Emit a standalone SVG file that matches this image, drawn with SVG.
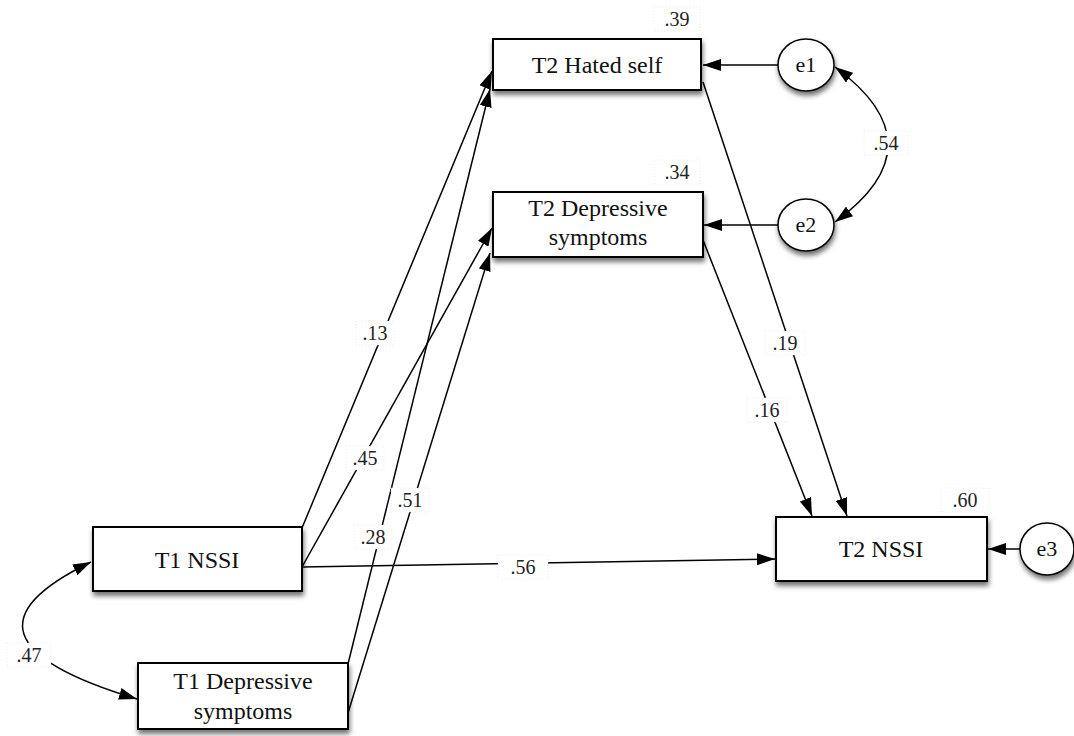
<svg xmlns="http://www.w3.org/2000/svg" width="1074" height="736" viewBox="0 0 1074 736">
<style>
.box{fill:#fff;stroke:#000;stroke-width:2;filter:url(#sh)}
.circ{fill:#fff;stroke:#000;stroke-width:1.5;filter:url(#sh)}
.t{font-family:"Liberation Serif",serif;font-size:24px;fill:#111;text-anchor:middle}
.et{font-family:"Liberation Serif",serif;font-size:22px;fill:#111;text-anchor:middle}
.lb{font-family:"Liberation Serif",serif;font-size:20px;fill:#222;text-anchor:middle}
.lbg{fill:#fff;stroke:#ddd;stroke-width:0.6;stroke-dasharray:1 2}
.c{fill:none;stroke:#000;stroke-width:1.5;marker-end:url(#ah)}
.cc{fill:none;stroke:#000;stroke-width:1.5;marker-start:url(#ahs);marker-end:url(#ah)}
</style>
<defs>
<filter id="sh" x="-20%" y="-20%" width="140%" height="160%">
<feDropShadow dx="1" dy="4" stdDeviation="2.5" flood-color="#000" flood-opacity="0.55"/>
</filter>
<marker id="ah" viewBox="0 0 18 12" refX="18" refY="6" markerWidth="18" markerHeight="12" markerUnits="userSpaceOnUse" orient="auto">
<path d="M0,0 L18,6 L0,12 Z" fill="#000"/>
</marker>
<marker id="ahs" viewBox="0 0 18 12" refX="0" refY="6" markerWidth="18" markerHeight="12" markerUnits="userSpaceOnUse" orient="auto">
<path d="M18,0 L0,6 L18,12 Z" fill="#000"/>
</marker>
</defs>
<g id="connectors">
<line class="c" x1="302" y1="528" x2="492" y2="71"/>
<line class="c" x1="348" y1="664" x2="490" y2="89"/>
<line class="c" x1="302" y1="567" x2="492" y2="228"/>
<line class="c" x1="348" y1="713" x2="490" y2="253"/>
<line class="c" x1="302" y1="567" x2="775" y2="559"/>
<line class="c" x1="703" y1="82" x2="847" y2="516"/>
<line class="c" x1="703" y1="240" x2="812" y2="516"/>
<line class="c" x1="778" y1="65" x2="703" y2="65"/>
<line class="c" x1="778" y1="225" x2="704" y2="225"/>
<line class="c" x1="1020" y1="549" x2="988" y2="549"/>
<path class="cc" d="M835,67 Q941,145 835,222"/>
<path class="cc" d="M91,562 Q-66,638 137,699"/>
<g id="labels">
<rect class="lbg" x="356" y="321" width="38" height="24"/><text class="lb" x="375" y="340">.13</text>
<rect class="lbg" x="346" y="446" width="38" height="24"/><text class="lb" x="365" y="465">.45</text>
<rect class="lbg" x="391" y="488" width="38" height="24"/><text class="lb" x="410" y="507">.51</text>
<rect class="lbg" x="354" y="525" width="38" height="24"/><text class="lb" x="373" y="544">.28</text>
<rect class="lbg" x="498" y="555" width="50" height="24"/><text class="lb" x="523" y="574">.56</text>
<rect class="lbg" x="765" y="331" width="40" height="24"/><text class="lb" x="785" y="350">.19</text>
<rect class="lbg" x="747" y="398" width="40" height="24"/><text class="lb" x="767" y="417">.16</text>
<rect class="lbg" x="864" y="131" width="44" height="24"/><text class="lb" x="886" y="150">.54</text>
<rect class="lbg" x="7" y="643" width="44" height="24"/><text class="lb" x="29" y="662">.47</text>
<rect class="lbg" x="654" y="7" width="46" height="24"/><text class="lb" x="677" y="26">.39</text>
<rect class="lbg" x="654" y="160" width="46" height="24"/><text class="lb" x="677" y="179">.34</text>
<rect class="lbg" x="941" y="488" width="48" height="24"/><text class="lb" x="965" y="507">.60</text>
</g>
</g>
<g id="t2hated">
<rect class="box" x="493" y="39" width="208" height="51"/>
<text class="t" x="597" y="73">T2 Hated self</text>
</g>
<g id="t2dep">
<rect class="box" x="493" y="192" width="210" height="65"/>
<text class="t" x="598" y="216">T2 Depressive</text>
<text class="t" x="598" y="245">symptoms</text>
</g>
<g id="t1nssi">
<rect class="box" x="93" y="527" width="209" height="64"/>
<text class="t" x="197" y="568">T1 NSSI</text>
</g>
<g id="t1dep">
<rect class="box" x="138" y="663" width="210" height="66"/>
<text class="t" x="243" y="689">T1 Depressive</text>
<text class="t" x="243" y="719">symptoms</text>
</g>
<g id="t2nssi">
<rect class="box" x="776" y="517" width="211" height="64"/>
<text class="t" x="881" y="557">T2 NSSI</text>
</g>
<g id="e1">
<ellipse class="circ" cx="806" cy="65" rx="28" ry="26"/>
<text class="et" x="806" y="72">e1</text>
</g>
<g id="e2">
<ellipse class="circ" cx="806" cy="225" rx="28" ry="26"/>
<text class="et" x="806" y="232">e2</text>
</g>
<g id="e3">
<ellipse class="circ" cx="1047" cy="549" rx="27" ry="26"/>
<text class="et" x="1047" y="556">e3</text>
</g>
</svg>
